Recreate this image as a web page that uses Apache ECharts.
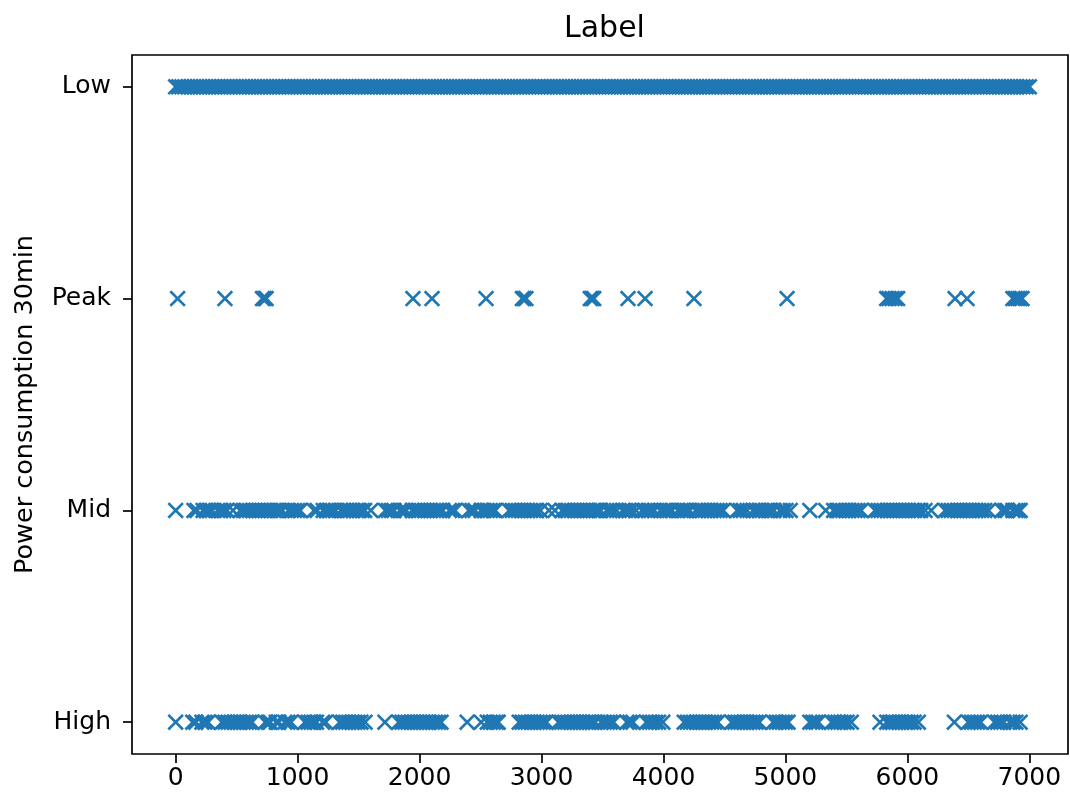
<!DOCTYPE html>
<html>
<head>
<meta charset="utf-8">
<script src="https://cdn.jsdelivr.net/npm/echarts@6/dist/echarts.min.js"></script>
<style>
  html, body { margin: 0; padding: 0; background: #fff; }
  #chart { width: 1070px; height: 800px; }
</style>
</head>
<body>
<div id="chart"></div>
<script>
// Category order from the bottom of the y axis to the top
const categories = ['High', 'Mid', 'Peak', 'Low'];

// Time-step positions (x) of each labelled reading
const lowX = [
  0,25,50,75,100,125,150,175,200,225,250,275,300,325,350,375,400,425,450,475,
  500,525,550,575,600,625,650,675,700,725,750,775,800,825,850,875,900,925,950,975,
  1000,1025,1050,1075,1100,1125,1150,1175,1200,1225,1250,1275,1300,1325,1350,1375,1400,1425,1450,1475,
  1500,1525,1550,1575,1600,1625,1650,1675,1700,1725,1750,1775,1800,1825,1850,1875,1900,1925,1950,1975,
  2000,2025,2050,2075,2100,2125,2150,2175,2200,2225,2250,2275,2300,2325,2350,2375,2400,2425,2450,2475,
  2500,2525,2550,2575,2600,2625,2650,2675,2700,2725,2750,2775,2800,2825,2850,2875,2900,2925,2950,2975,
  3000,3025,3050,3075,3100,3125,3150,3175,3200,3225,3250,3275,3300,3325,3350,3375,3400,3425,3450,3475,
  3500,3525,3550,3575,3600,3625,3650,3675,3700,3725,3750,3775,3800,3825,3850,3875,3900,3925,3950,3975,
  4000,4025,4050,4075,4100,4125,4150,4175,4200,4225,4250,4275,4300,4325,4350,4375,4400,4425,4450,4475,
  4500,4525,4550,4575,4600,4625,4650,4675,4700,4725,4750,4775,4800,4825,4850,4875,4900,4925,4950,4975,
  5000,5025,5050,5075,5100,5125,5150,5175,5200,5225,5250,5275,5300,5325,5350,5375,5400,5425,5450,5475,
  5500,5525,5550,5575,5600,5625,5650,5675,5700,5725,5750,5775,5800,5825,5850,5875,5900,5925,5950,5975,
  6000,6025,6050,6075,6100,6125,6150,6175,6200,6225,6250,6275,6300,6325,6350,6375,6400,6425,6450,6475,
  6500,6525,6550,6575,6600,6625,6650,6675,6700,6725,6750,6775,6800,6825,6850,6875,6900,6925,6950,6975,
  7000
];

const peakX = [
  16, 404, 712, 728, 742, 1946, 2102, 2545, 2843, 2858, 2872, 3400, 3414, 3428,
  3709, 3849, 4250, 5013, 5830, 5850, 5875, 5900, 5920, 6391, 6489,
  6865, 6885, 6905, 6925, 6940
];

const midX = [
  0,150,175,225,250,275,300,345,370,395,420,470,530,555,580,605,630,655,680,705,
  730,755,780,805,830,850,875,925,950,975,1000,1020,1135,1160,1210,1235,1260,1285,1310,1355,
  1380,1405,1430,1455,1480,1505,1530,1550,1600,1720,1745,1770,1790,1840,1865,1890,1940,1965,1990,2015,
  2040,2065,2090,2115,2140,2165,2190,2245,2270,2290,2405,2430,2455,2505,2530,2555,2580,2605,2620,2735,
  2760,2785,2810,2835,2860,2885,2910,2935,2960,2990,3060,3110,3170,3195,3220,3245,3270,3295,3320,3345,
  3370,3395,3420,3445,3470,3485,3535,3560,3585,3615,3665,3690,3715,3740,3775,3825,3850,3875,3900,3925,
  3975,4000,4025,4050,4070,4120,4145,4170,4195,4215,4265,4290,4315,4340,4365,4390,4415,4440,4465,4490,
  4605,4630,4655,4685,4735,4760,4785,4810,4835,4860,4880,4905,4955,4980,5005,5040,5200,5330,5395,5420,
  5445,5470,5495,5520,5545,5570,5595,5620,5735,5760,5785,5810,5835,5860,5885,5910,5935,5960,5985,6010,
  6035,6060,6085,6110,6145,6195,6310,6335,6360,6385,6410,6435,6460,6485,6510,6535,6560,6585,6610,6635,
  6665,6775,6800,6820,6865,6890,6910,6925
];

const highX = [
  0,140,165,215,240,265,380,405,430,455,480,505,530,555,580,605,625,735,760,775,
  825,845,895,920,945,1060,1085,1110,1135,1155,1205,1230,1345,1370,1395,1420,1445,1470,1495,1520,
  1553,1716,1830,1855,1880,1905,1930,1955,1980,2005,2030,2055,2080,2105,2130,2155,2176,2390,2505,2555,
  2580,2605,2630,2645,2817,2840,2865,2890,2915,2940,2965,2990,3015,3040,3140,3165,3190,3215,3240,3265,
  3290,3315,3340,3365,3390,3415,3440,3490,3515,3540,3565,3590,3700,3725,3750,3860,3885,3910,3935,3960,
  3995,4170,4195,4220,4245,4270,4295,4320,4345,4370,4395,4420,4445,4560,4585,4610,4635,4660,4685,4710,
  4735,4760,4785,4900,4925,4950,4975,5000,5022,5200,5225,5250,5270,5380,5405,5430,5455,5480,5505,5540,
  5775,5830,5855,5880,5905,5930,5955,5980,6005,6030,6055,6090,6385,6500,6525,6550,6575,6600,6715,6740,
  6765,6790,6840,6865,6890,6925
];

const xTicks = [0, 1000, 2000, 3000, 4000, 5000, 6000, 7000];
const yTicks = [0, 1, 2, 3];

// Build [x, categoryIndex] pairs for the scatter series
const points = [];
const groups = { High: highX, Mid: midX, Peak: peakX, Low: lowX };
categories.forEach(function (name, idx) {
  groups[name].forEach(function (x) { points.push([x, idx]); });
});

// "x" marker drawn as a filled outline of two crossed strokes
const crossSymbol = 'path://M0,1.15L1.15,0L5,3.85L8.85,0L10,1.15L6.15,5L10,8.85L8.85,10L5,6.15L1.15,10L0,8.85L3.85,5Z';

const font = 'DejaVu Sans';
const chart = echarts.init(document.getElementById('chart'), null, { renderer: 'canvas' });

chart.setOption({
  animation: false,
  backgroundColor: '#ffffff',
  title: {
    text: 'Label',
    left: 559,
    top: 9,
    textStyle: { fontFamily: font, fontSize: 30, fontWeight: 'normal', color: '#000' }
  },
  grid: {
    left: 132, right: 2, top: 55, bottom: 46,
    show: true, borderColor: '#000', borderWidth: 1.7, backgroundColor: 'transparent'
  },
  xAxis: {
    type: 'value',
    min: -358,
    max: 7317,
    axisLine: { show: false, onZero: false },
    splitLine: { show: false },
    axisTick: { show: true, inside: false, length: 9, lineStyle: { color: '#000', width: 1.7 }, customValues: xTicks },
    axisLabel: {
      customValues: xTicks,
      margin: 12,
      fontFamily: font, fontSize: 25, color: '#000',
      formatter: function (v) { return String(v); }
    }
  },
  yAxis: {
    type: 'value',
    min: -0.15,
    max: 3.15,
    name: 'Power consumption 30min',
    nameLocation: 'middle',
    nameGap: 94,
    nameTextStyle: { fontFamily: font, fontSize: 25.5, color: '#000' },
    axisLine: { show: false, onZero: false },
    splitLine: { show: false },
    axisTick: { show: true, inside: false, length: 9, lineStyle: { color: '#000', width: 1.7 }, customValues: yTicks },
    axisLabel: {
      customValues: yTicks,
      margin: 21,
      fontFamily: font, fontSize: 25, color: '#000',
      formatter: function (v) { return categories[Math.round(v)]; }
    }
  },
  series: [{
    type: 'scatter',
    data: points,
    symbol: crossSymbol,
    symbolSize: 16.5,
    silent: true,
    itemStyle: { color: '#1f77b4', opacity: 1 }
  }]
});
</script>
</body>
</html>
